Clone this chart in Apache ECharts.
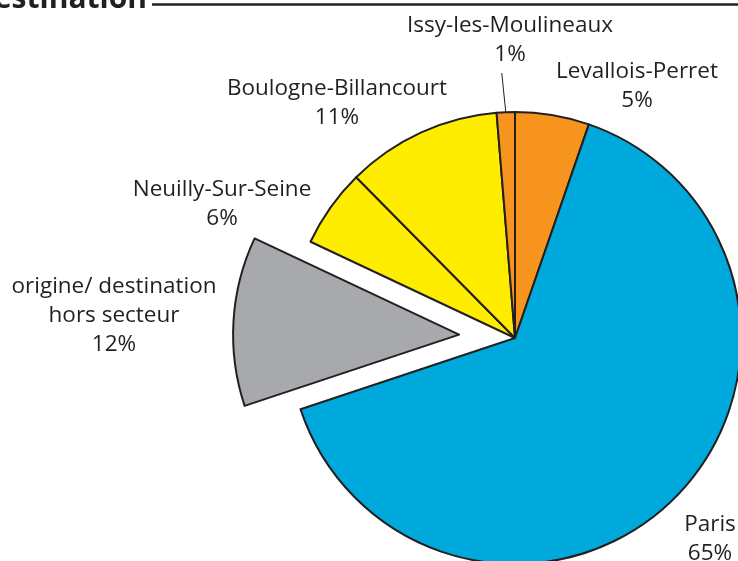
<!DOCTYPE html>
<html><head><meta charset="utf-8">
<script src="https://cdn.jsdelivr.net/npm/echarts@6/dist/echarts.min.js"></script>
<style>html,body{margin:0;padding:0;background:#fff}#c{width:738px;height:561px}</style>
</head><body><div id="c"></div>
<script>
const categories = ['Levallois-Perret', 'Paris', 'origine/ destination\nhors secteur', 'Neuilly-Sur-Seine', 'Boulogne-Billancourt', 'Issy-les-Moulineaux'];
const values = [5.3, 64.6, 12.1, 5.6, 11.1, 1.3];
const colors = ['#F7941E', '#00A9DB', '#A7A9AC', '#FFED00', '#FFED00', '#F7941E'];
const titleText = 'Origine/destination';
const explodedIndex = 2;
const lineLabelIndex = 5;

const labelPos = [[637, 86], [710, 539], [114, 316], [222, 204], [337, 103], [510, 40]];

const center = [515, 338];
const explodeDist = 56;
const total = values.reduce((a, b) => a + b, 0);
const before = values.slice(0, explodedIndex).reduce((a, b) => a + b, 0);
const midAng = (before + values[explodedIndex] / 2) / total * 2 * Math.PI;
const center2 = [center[0] + explodeDist * Math.sin(midAng), center[1] - explodeDist * Math.cos(midAng)];

const transparent = 'rgba(0,0,0,0)';
const baseLabel = {
  show: true,
  position: 'outside',
  formatter: p => p.name + '\n' + Math.round(p.percent) + '%',
  fontFamily: 'Open Sans',
  fontSize: 22.5,
  lineHeight: 29,
  color: '#231F20',
  align: 'center'
};
const layoutFn = p => {
  const lx = labelPos[p.dataIndex][0], ly = labelPos[p.dataIndex][1];
  const out = {x: lx, y: ly, align: 'center', verticalAlign: 'middle'};
  if (p.dataIndex === lineLabelIndex && p.labelLinePoints) {
    const s = p.labelLinePoints[0];
    out.labelLinePoints = [[s[0], s[1]], [s[0] - 4, ly + p.labelRect.height / 2 + 4]];
  }
  return out;
};

function makeSeries(c, showFn) {
  return {
    type: 'pie',
    center: c,
    radius: [0, 226],
    startAngle: 90,
    clockwise: true,
    silent: true,
    avoidLabelOverlap: false,
    emphasis: {disabled: true},
    itemStyle: {borderColor: '#231F20', borderWidth: 2},
    label: baseLabel,
    labelLine: {show: false},
    labelLayout: layoutFn,
    data: categories.map((n, i) => {
      const vis = showFn(i);
      return {
        name: n, value: values[i],
        itemStyle: vis ? {color: colors[i]} : {color: transparent, borderWidth: 0},
        label: {show: vis},
        labelLine: (vis && i === lineLabelIndex) ? {show: true, length: 20, length2: 0, lineStyle: {color: '#231F20', width: 1}} : {show: false}
      };
    })
  };
}

const chart = echarts.init(document.getElementById('c'), null, {renderer: 'canvas'});
chart.setOption({
  animation: false,
  graphic: [
    {type: 'line', shape: {x1: 152, y1: 4.5, x2: 738, y2: 4.5}, style: {stroke: '#231F20', lineWidth: 2.5}},
    {type: 'text', x: 147, y: 14, style: {text: titleText, align: 'right', verticalAlign: 'bottom', font: 'bold 30px "Open Sans"', fill: '#231F20'}}
  ],
  series: [
    makeSeries(center, i => i !== explodedIndex),
    makeSeries(center2, i => i === explodedIndex)
  ]
});
</script></body></html>
